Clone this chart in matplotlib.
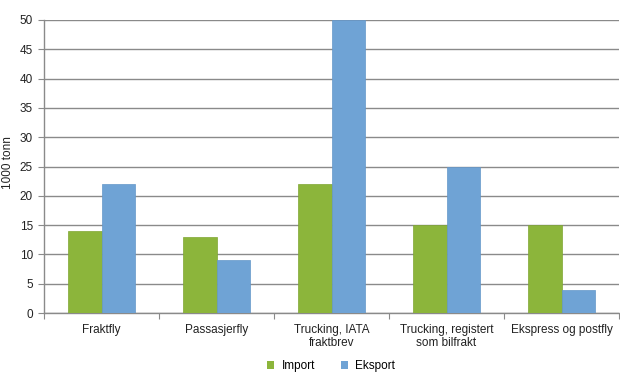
import matplotlib
matplotlib.use("Agg")
import matplotlib.pyplot as plt
import numpy as np
from matplotlib.patches import Patch

categories = ["Fraktfly", "Passasjerfly", "Trucking, IATA\nfraktbrev",
              "Trucking, registert\nsom bilfrakt", "Ekspress og postfly"]
import_vals = [14, 13, 22, 15, 15]
eksport_vals = [22, 9, 50, 25, 4]
series_names = ["Import", "Eksport"]
yticks = list(range(0, 51, 5))

plt.rcParams['font.family'] = ['Liberation Sans', 'DejaVu Sans']
green = "#8CB53B"
blue = "#6FA3D5"
fs = 8.5

fig = plt.figure(figsize=(6.2, 3.88), dpi=100)
ax = fig.add_axes([44/620, 1-313/388, (619-44)/620, (313-20)/388])

x = np.arange(len(categories))
w = 0.287
ax.bar(x - w/2, import_vals, w, color=green, edgecolor="#7FA633", linewidth=0.5, zorder=3)
ax.bar(x + w/2, eksport_vals, w, color=blue, edgecolor="#6497C9", linewidth=0.5, zorder=3)

ax.set_xlim(-0.5, len(categories) - 0.5)
ax.set_ylim(0, 50)
ax.set_yticks(yticks)
ax.yaxis.grid(True, color="#8A8A8A", linewidth=1.0, zorder=0)
ax.set_axisbelow(True)

for s in ["top", "right"]:
    ax.spines[s].set_visible(False)
ax.spines["left"].set_color("#8A8A8A")
ax.spines["bottom"].set_color("#8A8A8A")
ax.spines["left"].set_linewidth(1.0)
ax.spines["bottom"].set_linewidth(1.0)

ax.set_xticks(np.arange(-0.5, len(categories)), minor=False)
ax.set_xticklabels([])
ax.set_xticks(x, minor=True)
ax.set_xticklabels(categories, minor=True, fontsize=fs, color="#222222", linespacing=1.15)
ax.tick_params(axis="x", which="minor", length=0, pad=8)
ax.tick_params(axis="x", which="major", length=4, color="#8A8A8A", direction="out")
ax.tick_params(axis="y", length=4, color="#8A8A8A", labelsize=fs, labelcolor="#222222", pad=4)

fig.text(8/620, 1-163/388, "1000 tonn", rotation=90, fontsize=fs, color="#222222",
         ha="center", va="center")

handles = [Patch(facecolor=green, edgecolor="none"), Patch(facecolor=blue, edgecolor="none")]
fig.legend(handles, series_names, loc="center", bbox_to_anchor=(331/620, 1-366/388),
           ncol=2, frameon=False, fontsize=fs, handlelength=0.6, handleheight=0.6,
           columnspacing=2.2, handletextpad=0.6)

fig.savefig("out.png", dpi=100)
